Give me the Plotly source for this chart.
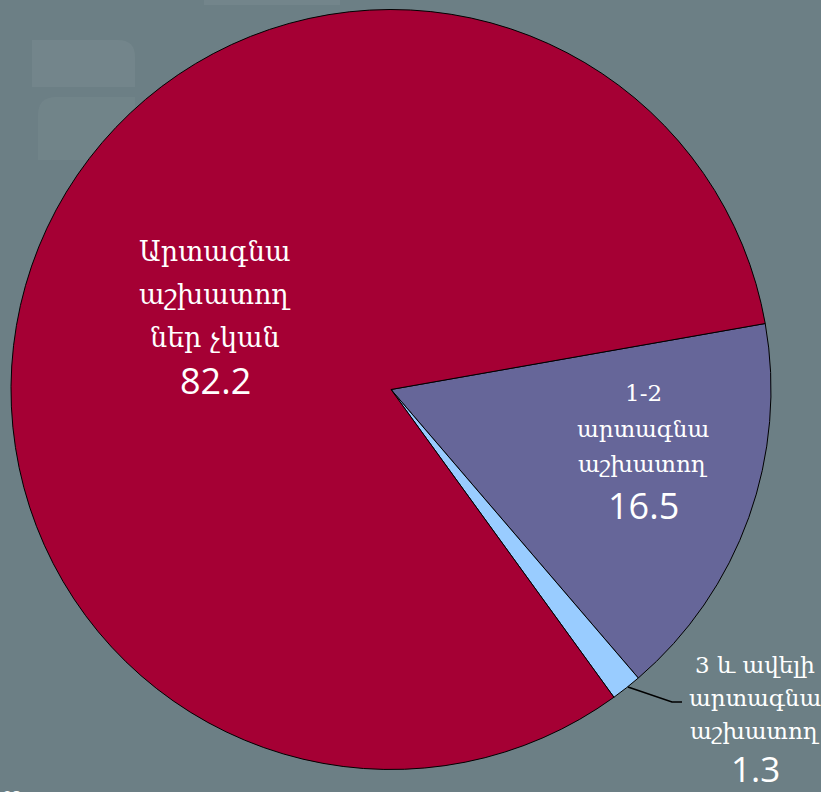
import plotly.graph_objects as go

categories = ["1-2 արտագնա աշխատող", "3 և ավելի արտագնա աշխատող", "Արտագնա աշխատողներ չկան"]
values = [16.5, 1.3, 82.2]
colors = ["#666699", "#99CCFF", "#A50034"]

label_lines = [
    ["1-2", "արտագնա", "աշխատող"],
    ["3 և ավելի", "արտագնա", "աշխատող"],
    ["Արտագնա", "աշխատող", "ներ չկան"],
]

W, H = 821, 792
fig = go.Figure()
fig.add_trace(go.Pie(
    labels=categories, values=values, sort=False, direction="clockwise",
    rotation=80, marker=dict(colors=colors, line=dict(color="#000000", width=1)),
    textinfo="none", hoverinfo="label+value", showlegend=False,
    domain=dict(x=[11 / W, 771 / W], y=[(H - 770) / H, (H - 9) / H]),
))

bg = "#6C7F85"
shapes = [
    dict(type="path", xref="paper", yref="paper",
         path=f"M {32 / W},{1 - 40 / H} L {118 / W},{1 - 40 / H} Q {135 / W},{1 - 40 / H} {135 / W},{1 - 57 / H} "
              f"L {135 / W},{1 - 87 / H} L {32 / W},{1 - 87 / H} Z",
         fillcolor="rgba(255,255,255,0.05)", line=dict(width=0), layer="below"),
    dict(type="path", xref="paper", yref="paper",
         path=f"M {38 / W},{1 - 160 / H} L {38 / W},{1 - 115 / H} Q {38 / W},{1 - 97 / H} {56 / W},{1 - 97 / H} "
              f"L {135 / W},{1 - 97 / H} L {135 / W},{1 - 160 / H} Z",
         fillcolor="rgba(255,255,255,0.04)", line=dict(width=0), layer="below"),
    dict(type="rect", xref="paper", yref="paper", x0=204 / W, x1=340 / W, y0=1 - 5 / H, y1=1,
         fillcolor="rgba(255,255,255,0.05)", line=dict(width=0), layer="below"),
    # leader line for small slice
    dict(type="path", xref="paper", yref="paper",
         path=f"M {628 / W},{1 - 687 / H} L {672 / W},{1 - 702 / H} L {682 / W},{1 - 702 / H}",
         line=dict(color="#000000", width=1.5)),
]

arm_font = "DejaVu Serif"
num_font = "Open Sans"
ann = []

def add_label(lines, value, cx, ys, fsize, nsize, ny):
    for t, y in zip(lines, ys):
        ann.append(dict(x=cx / W, y=1 - y / H, xref="paper", yref="paper", text=t, showarrow=False,
                        font=dict(family=arm_font, size=fsize, color="white"), xanchor="center", yanchor="middle"))
    ann.append(dict(x=cx / W, y=1 - ny / H, xref="paper", yref="paper", text=f"{value:.1f}", showarrow=False,
                    font=dict(family=num_font, size=nsize, color="white"), xanchor="center", yanchor="middle"))

add_label(label_lines[2], values[2], 215, [252, 295, 337], 27, 36, 380)
add_label(label_lines[0], values[0], 643, [393, 429, 464], 23, 36, 505)
add_label(label_lines[1], values[1], 755, [665, 698, 731], 23, 35, 768)

ann.append(dict(x=1 / W, y=1 - 797 / H, xref="paper", yref="paper", text="23", showarrow=False,
                font=dict(family=num_font, size=16, color="white"), xanchor="left", yanchor="middle"))

fig.update_layout(
    width=W, height=H, margin=dict(l=0, r=0, t=0, b=0),
    paper_bgcolor=bg, plot_bgcolor=bg, shapes=shapes, annotations=ann,
)
fig.write_html("out.html", config={"displayModeBar": False},
               post_script="document.body.style.margin='0';document.body.style.overflow='hidden';")
